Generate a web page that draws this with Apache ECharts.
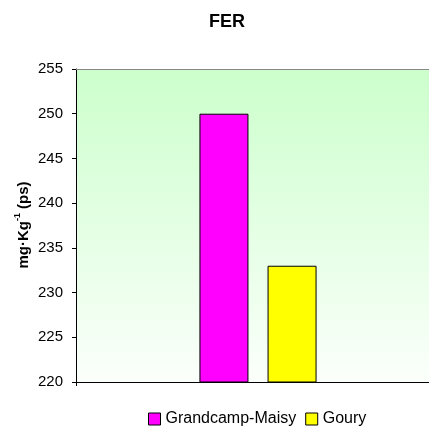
<!DOCTYPE html>
<html>
<head>
<meta charset="utf-8">
<style>
  html, body { margin: 0; padding: 0; background: #fff; overflow: hidden; }
  #chart { width: 440px; height: 428px; }
</style>
<script src="https://cdn.jsdelivr.net/npm/echarts@6/dist/echarts.min.js"></script>
</head>
<body>
<div id="chart"></div>
<script>
const categories = ['FER']
const seriesNames = ['Grandcamp-Maisy', 'Goury']
const seriesValues = [[250], [233]]
const seriesColors = ['#ff00ff', '#ffff00']
const yTicks = { min: 220, max: 255, interval: 5 }

const font = 'Arial, "Liberation Sans", sans-serif'
// plot area runs past the right edge of the window in the original
const myChart = echarts.init(document.getElementById('chart'))

const option = {
  animation: false,
  title: {
    text: 'FER',
    left: 222,
    textAlign: 'center',
    top: 8,
    textStyle: { fontFamily: font, fontSize: 18, fontWeight: 'bold', color: '#000' }
  },
  legend: {
    data: seriesNames,
    left: 143,
    top: 406,
    itemWidth: 12,
    itemHeight: 12,
    itemGap: 9,
    icon: 'rect',
    itemStyle: { borderColor: '#000', borderWidth: 1 },
    textStyle: { fontFamily: font, fontSize: 16, color: '#000' }
  },
  grid: {
    left: 76,
    right: 0,
    top: 69,
    bottom: 46,
    show: true,
    borderWidth: 0,
    backgroundColor: new echarts.graphic.LinearGradient(0, 0, 0, 1, [
      { offset: 0, color: '#ccffcc' },
      { offset: 1, color: '#fbfffb' }
    ])
  },
  graphic: [{
    type: 'text',
    x: 22,
    y: 225,
    rotation: Math.PI / 2,
    style: {
      text: '{a|mg·Kg}{s|-1}{a| (ps)}',
      align: 'center',
      verticalAlign: 'middle',
      rich: {
        a: { fontFamily: font, fontSize: 15, fontWeight: 'bold', color: '#000', lineHeight: 18, verticalAlign: 'bottom' },
        s: { fontFamily: font, fontSize: 9, fontWeight: 'bold', color: '#000', lineHeight: 18, verticalAlign: 'top' }
      }
    }
  }],
  xAxis: [{
    type: 'category',
    data: categories,
    axisLine: { lineStyle: { color: '#000', width: 1 } },
    axisTick: { show: true, length: 4, lineStyle: { color: '#000' } },
    axisLabel: { show: false }
  }, {
    type: 'category',
    position: 'top',
    data: categories,
    axisLine: { lineStyle: { color: '#888', width: 1 } },
    axisTick: { show: false },
    axisLabel: { show: false }
  }],
  yAxis: {
    type: 'value',
    min: yTicks.min,
    max: yTicks.max,
    interval: yTicks.interval,
    axisLine: { show: true, lineStyle: { color: '#000', width: 1 } },
    axisTick: { show: true, length: 4, lineStyle: { color: '#000' } },
    splitLine: { show: false },
    axisLabel: { margin: 13, fontFamily: font, fontSize: 15, color: '#000' }
  },
  series: seriesNames.map((name, i) => ({
    name: name,
    type: 'bar',
    data: seriesValues[i],
    barWidth: 49,
    barGap: '39%',
    itemStyle: { color: seriesColors[i], borderColor: '#000', borderWidth: 1 }
  }))
}

myChart.setOption(option)
</script>
</body>
</html>
